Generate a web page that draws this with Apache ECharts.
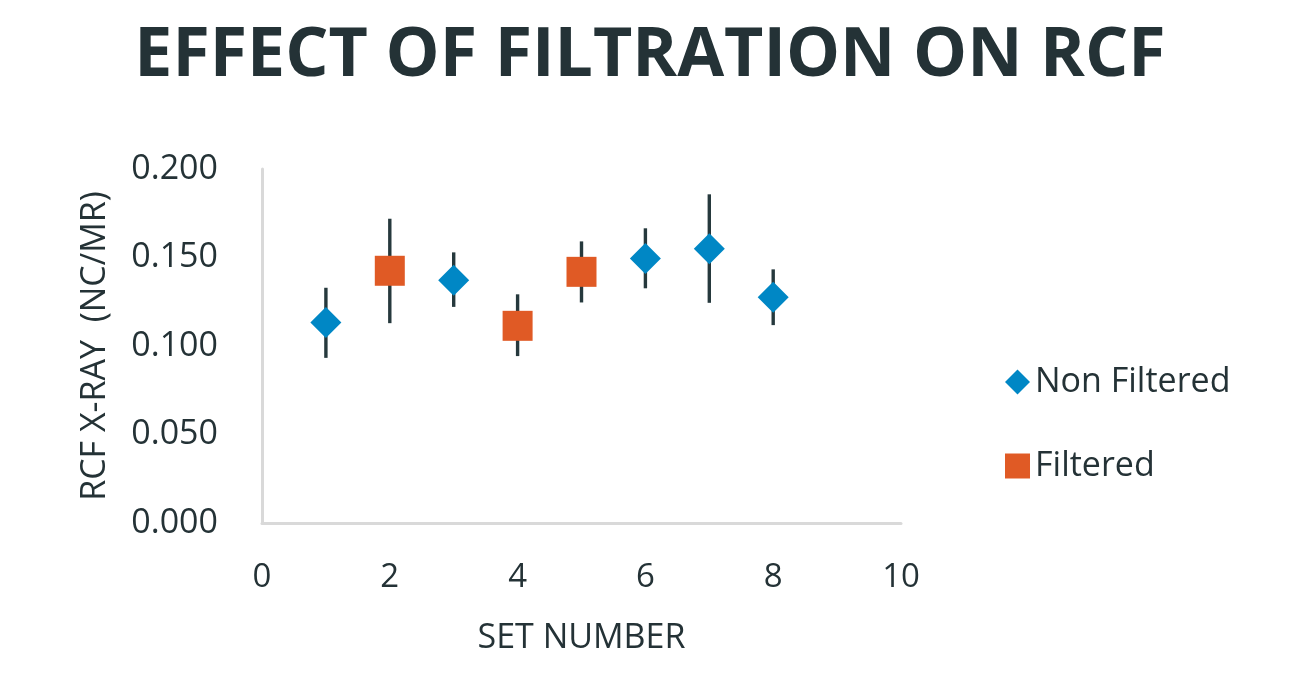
<!DOCTYPE html>
<html>
<head>
<meta charset="utf-8">
<script src="https://cdn.jsdelivr.net/npm/echarts@6/dist/echarts.min.js"></script>
<style>html,body{margin:0;padding:0;background:#fff}#chart{width:1300px;height:681px}</style>
</head>
<body>
<div id="chart"></div>
<script>
const titleText = 'EFFECT OF FILTRATION ON RCF';
const xTicks = [0, 2, 4, 6, 8, 10];
const yTicks = ['0.000', '0.050', '0.100', '0.150', '0.200'];

const nonFilteredSet = [1, 3, 6, 7, 8];
const nonFilteredRcf = [0.1133, 0.1372, 0.1495, 0.1549, 0.1275];
const nonFilteredLow = [0.0933, 0.1221, 0.1326, 0.1244, 0.1118];
const nonFilteredHigh = [0.1329, 0.1529, 0.1665, 0.1857, 0.1433];

const filteredSet = [2, 4, 5];
const filteredRcf = [0.1425, 0.1114, 0.1419];
const filteredLow = [0.1129, 0.0943, 0.1246];
const filteredHigh = [0.1719, 0.1292, 0.1591];

const textColor = '#243236';
const font = 'Open Sans';

function errData(xs, lo, hi) { return xs.map((x, i) => [x, lo[i], hi[i]]); }
function errSeries(xs, lo, hi) {
  return {
    type: 'custom',
    z: 1,
    silent: true,
    renderItem: function (params, api) {
      const a = api.coord([api.value(0), api.value(1)]);
      const b = api.coord([api.value(0), api.value(2)]);
      return { type: 'line', shape: { x1: a[0], y1: a[1], x2: b[0], y2: b[1] },
        style: { stroke: '#26393D', lineWidth: 3.4 } };
    },
    encode: { x: 0, y: [1, 2] },
    data: errData(xs, lo, hi)
  };
}

const chart = echarts.init(document.getElementById('chart'));
chart.setOption({
  animation: false,
  backgroundColor: '#ffffff',
  title: {
    text: titleText,
    left: 'center',
    top: 18,
    textStyle: { fontFamily: font, fontWeight: 'bold', fontSize: 68, color: textColor }
  },
  legend: {
    orient: 'vertical',
    left: 1000,
    top: 360,
    itemWidth: 25,
    itemHeight: 25,
    itemGap: 50,
    textStyle: { fontFamily: font, fontSize: 34, color: textColor },
    data: ['Non Filtered', 'Filtered']
  },
  grid: { left: 262, right: 399, top: 169, bottom: 158, containLabel: false },
  xAxis: {
    type: 'value',
    min: 0, max: 10, interval: 2,
    name: 'SET NUMBER',
    nameLocation: 'middle',
    nameGap: 98,
    nameTextStyle: { fontFamily: font, fontSize: 34, color: textColor },
    axisLine: { show: true, onZero: false, lineStyle: { color: '#D9D9D9', width: 3 } },
    axisTick: { show: false },
    splitLine: { show: false },
    axisLabel: { fontFamily: font, fontSize: 33, color: textColor, margin: 38,
      formatter: v => String(xTicks[xTicks.indexOf(v)]) }
  },
  yAxis: {
    type: 'value',
    min: 0, max: 0.2, interval: 0.05,
    name: 'RCF X-RAY  (NC/MR)',
    nameLocation: 'middle',
    nameGap: 150,
    nameTextStyle: { fontFamily: font, fontSize: 34, color: textColor },
    axisLine: { show: true, lineStyle: { color: '#D9D9D9', width: 3 } },
    axisTick: { show: false },
    splitLine: { show: false },
    axisLabel: { fontFamily: font, fontSize: 34, color: textColor, margin: 44,
      formatter: v => yTicks[Math.round(v / 0.05)] }
  },
  series: [
    errSeries(nonFilteredSet, nonFilteredLow, nonFilteredHigh),
    errSeries(filteredSet, filteredLow, filteredHigh),
    {
      name: 'Non Filtered',
      type: 'scatter',
      z: 3,
      symbol: 'diamond',
      symbolSize: 31,
      itemStyle: { color: '#0087C5', opacity: 1 },
      data: nonFilteredSet.map((x, i) => [x, nonFilteredRcf[i]])
    },
    {
      name: 'Filtered',
      type: 'scatter',
      z: 3,
      symbol: 'rect',
      symbolSize: 30,
      itemStyle: { color: '#E05A25', opacity: 1 },
      data: filteredSet.map((x, i) => [x, filteredRcf[i]])
    }
  ]
});
</script>
</body>
</html>
